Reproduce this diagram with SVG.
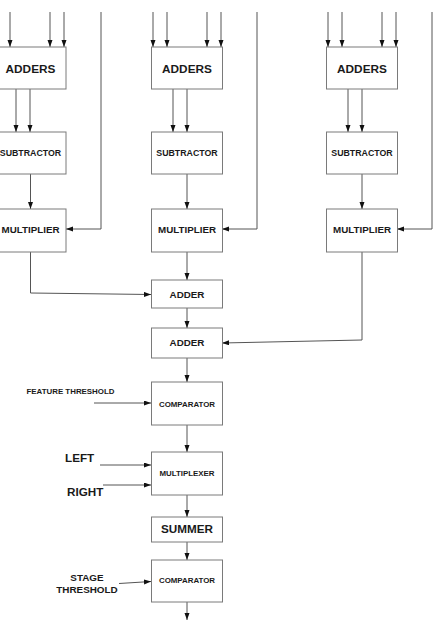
<svg xmlns="http://www.w3.org/2000/svg" width="437" height="629" viewBox="0 0 437 629">
  <style>
    .box { fill: #ffffff; stroke: #7a7a7a; stroke-width: 1; }
    .lbl { font-family: "Liberation Sans", Arial, sans-serif; font-weight: bold; fill: #1a1a1a; text-anchor: middle; }
    .side { font-family: "Liberation Sans", Arial, sans-serif; font-weight: bold; fill: #1a1a1a; }
    .wire { fill: none; stroke: #555555; stroke-width: 1; }
    .arr { marker-end: url(#head); }
  </style>
  <defs>
    <marker id="head" markerUnits="userSpaceOnUse" markerWidth="8" markerHeight="6" refX="7" refY="2.5" orient="auto">
      <path d="M0,0 L7,2.5 L0,5 z" fill="#111111"/>
    </marker>
  </defs>
  <rect width="437" height="629" fill="#ffffff"/>

  <!-- connectors -->
  <g id="connectors">
    <!-- left branch inputs -->
    <path class="wire arr" d="M10,12 V47"/>
    <path class="wire arr" d="M50,12 V47"/>
    <path class="wire arr" d="M64,12 V47"/>
    <path class="wire arr" d="M101,12 V229 H66"/>
    <path class="wire arr" d="M16,89 V132"/>
    <path class="wire arr" d="M30,89 V132"/>
    <path class="wire arr" d="M30.5,174 V209"/>
    <path class="wire arr" d="M30.5,252 V293 L151,294.5"/>
    <!-- middle branch inputs -->
    <path class="wire arr" d="M153,12 V47"/>
    <path class="wire arr" d="M167,12 V47"/>
    <path class="wire arr" d="M207,12 V47"/>
    <path class="wire arr" d="M221,12 V47"/>
    <path class="wire arr" d="M257,12 V229 H222"/>
    <path class="wire arr" d="M173,89 V132"/>
    <path class="wire arr" d="M187,89 V132"/>
    <path class="wire arr" d="M187,174 V209"/>
    <path class="wire arr" d="M187,252 V280"/>
    <!-- right branch inputs -->
    <path class="wire arr" d="M328,12 V47"/>
    <path class="wire arr" d="M342,12 V47"/>
    <path class="wire arr" d="M382,12 V47"/>
    <path class="wire arr" d="M396,12 V47"/>
    <path class="wire arr" d="M432,12 V229 H397"/>
    <path class="wire arr" d="M348,89 V132"/>
    <path class="wire arr" d="M362,89 V132"/>
    <path class="wire arr" d="M362,174 V209"/>
    <path class="wire arr" d="M362,252 V340 L222,343"/>
    <!-- main chain -->
    <path class="wire arr" d="M187,308 V328"/>
    <path class="wire arr" d="M187,358 V382"/>
    <path class="wire arr" d="M94,403 H151"/>
    <path class="wire arr" d="M187,425 V452"/>
    <path class="wire arr" d="M100,465 H151"/>
    <path class="wire arr" d="M103,485 H151"/>
    <path class="wire arr" d="M187,495 V517"/>
    <path class="wire arr" d="M187,542 V560"/>
    <path class="wire arr" d="M119,583.5 L151,581.5"/>
    <path class="wire arr" d="M187,602 V620"/>
  </g>

  <!-- left branch -->
  <g id="adders-left">
    <rect class="box" x="-5" y="47" width="71" height="42"/>
    <text class="lbl" x="30.5" y="72.5" font-size="11.8">ADDERS</text>
  </g>
  <g id="subtractor-left">
    <rect class="box" x="-5" y="132" width="71" height="42"/>
    <text class="lbl" x="30.5" y="156" font-size="8.8">SUBTRACTOR</text>
  </g>
  <g id="multiplier-left">
    <rect class="box" x="-5" y="209" width="71" height="43"/>
    <text class="lbl" x="30.5" y="233.3" font-size="9.8">MULTIPLIER</text>
  </g>

  <!-- middle branch -->
  <g id="adders-mid">
    <rect class="box" x="151.5" y="47" width="71" height="42"/>
    <text class="lbl" x="187" y="72.5" font-size="11.8">ADDERS</text>
  </g>
  <g id="subtractor-mid">
    <rect class="box" x="151.5" y="132" width="71" height="42"/>
    <text class="lbl" x="187" y="156" font-size="8.8">SUBTRACTOR</text>
  </g>
  <g id="multiplier-mid">
    <rect class="box" x="151.5" y="209" width="71" height="43"/>
    <text class="lbl" x="187" y="233.3" font-size="9.8">MULTIPLIER</text>
  </g>

  <!-- right branch -->
  <g id="adders-right">
    <rect class="box" x="326.5" y="47" width="71" height="42"/>
    <text class="lbl" x="362" y="72.5" font-size="11.8">ADDERS</text>
  </g>
  <g id="subtractor-right">
    <rect class="box" x="326.5" y="132" width="71" height="42"/>
    <text class="lbl" x="362" y="156" font-size="8.8">SUBTRACTOR</text>
  </g>
  <g id="multiplier-right">
    <rect class="box" x="326.5" y="209" width="71" height="43"/>
    <text class="lbl" x="362" y="233.3" font-size="9.8">MULTIPLIER</text>
  </g>

  <!-- combining chain -->
  <g id="adder-1">
    <rect class="box" x="151.5" y="280" width="71" height="28"/>
    <text class="lbl" x="187" y="297.5" font-size="9.8">ADDER</text>
  </g>
  <g id="adder-2">
    <rect class="box" x="151.5" y="328" width="71" height="30"/>
    <text class="lbl" x="187" y="346" font-size="9.8">ADDER</text>
  </g>
  <g id="comparator-1">
    <rect class="box" x="151.5" y="382" width="71" height="43"/>
    <text class="lbl" x="187" y="406.7" font-size="7.9">COMPARATOR</text>
  </g>
  <g id="feature-threshold">
    <text class="side" x="26.5" y="394" font-size="7.9">FEATURE THRESHOLD</text>
  </g>
  <g id="multiplexer">
    <rect class="box" x="151.5" y="452" width="71" height="43"/>
    <text class="lbl" x="187" y="475.7" font-size="7.9">MULTIPLEXER</text>
  </g>
  <g id="input-left">
    <text class="side" x="65" y="461.7" font-size="11.7">LEFT</text>
  </g>
  <g id="input-right">
    <text class="side" x="67" y="495.7" font-size="11.7">RIGHT</text>
  </g>
  <g id="summer">
    <rect class="box" x="151.5" y="517" width="71" height="25"/>
    <text class="lbl" x="187" y="533" font-size="11.7">SUMMER</text>
  </g>
  <g id="comparator-2">
    <rect class="box" x="151.5" y="560" width="71" height="42"/>
    <text class="lbl" x="187" y="583.3" font-size="7.9">COMPARATOR</text>
  </g>
  <g id="stage-threshold">
    <text class="lbl" x="87" y="580.7" font-size="9.9">STAGE</text>
    <text class="lbl" x="87" y="592.7" font-size="9.9">THRESHOLD</text>
  </g>
</svg>
